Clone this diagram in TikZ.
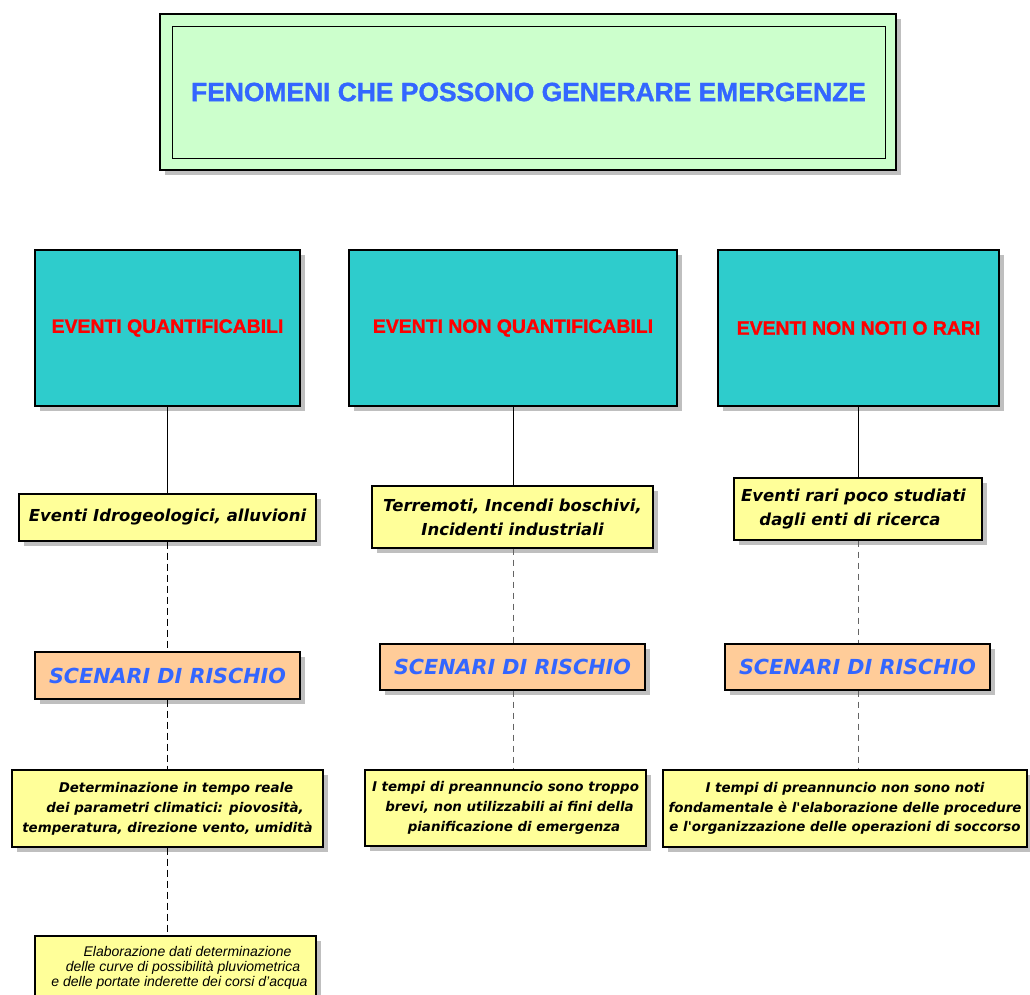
\documentclass[tikz,border=0pt]{standalone}
\usepackage{fontspec}
\setmainfont{Liberation Sans}[BoldFeatures={FakeBold=1.2}]
\newfontfamily\dvs{DejaVu Sans}[BoldFont={DejaVu Sans Bold},BoldItalicFont={DejaVu Sans Bold Oblique},ItalicFont={DejaVu Sans Oblique}]
\usetikzlibrary{shadows}
\definecolor{tgreen}{RGB}{204,255,204}
\definecolor{tblue}{RGB}{51,102,255}
\definecolor{tcyan}{RGB}{46,204,204}
\definecolor{tyellow}{RGB}{255,255,153}
\definecolor{torange}{RGB}{255,204,153}
\definecolor{tshadow}{RGB}{191,191,191}
\definecolor{tdash}{RGB}{100,100,100}
\tikzset{
  shad/.style={general shadow={fill=tshadow, shadow xshift=5pt, shadow yshift=-5pt}},
  box/.style={draw=black, line width=1.2pt, rectangle, inner sep=0pt, shad, align=center},
  cyanbox/.style={box, fill=tcyan, line width=2pt, minimum height=156pt, text=red,
    font=\bfseries\fontsize{19.4}{22}\selectfont},
  ybox/.style={box, fill=tyellow, font=\dvs\bfseries\itshape\fontsize{16.5}{24}\selectfont},
  obox/.style={box, fill=torange, text=tblue, minimum width=265pt, minimum height=47pt,
    font=\dvs\bfseries\itshape\fontsize{20.7}{24}\selectfont},
  sbox/.style={box, fill=tyellow, minimum height=77pt,
    font=\dvs\bfseries\itshape\fontsize{13.4}{19.8}\selectfont},
  solidc/.style={draw=black, line width=0.8pt},
  dashl/.style={draw=black, line width=0.8pt, dash pattern=on 7pt off 4pt},
  dashg/.style={draw=tdash, line width=1pt, dash pattern=on 6pt off 5pt}
}
\begin{document}
\begin{tikzpicture}[x=1pt,y=-1pt]
\useasboundingbox (0,0) rectangle (1030,994);
\clip (0,0) rectangle (1030,994);
% title
\node[box, fill=tgreen, minimum width=736pt, minimum height=156pt] (title) at (528,92) {};
\node[draw=black, line width=1pt, inner sep=0pt, minimum width=713pt, minimum height=132pt,
  text=tblue, font=\bfseries\fontsize{26.4}{30}\selectfont] (titlein) at (528.5,92)
  {FENOMENI CHE POSSONO GENERARE EMERGENZE};
% cyan boxes
\node[cyanbox, minimum width=265pt] (c1) at (167.5,328) {EVENTI QUANTIFICABILI};
\node[cyanbox, minimum width=328pt] (c2) at (513,328) {EVENTI NON QUANTIFICABILI};
\node[cyanbox, minimum width=281pt] (c3) at (858.5,328) {EVENTI NON NOTI O RARI};
% yellow top
\node[ybox, minimum width=297pt, minimum height=47pt] (y1) at (167.5,517.5) {Eventi Idrogeologici, alluvioni};
\node[ybox, minimum width=281pt, minimum height=62pt] (y2) at (512.5,517) {Terremoti, Incendi boschivi,\\Incidenti industriali};
\node[ybox, minimum width=248pt, minimum height=62pt] (y3) at (858,509) {Eventi rari poco studiati\hspace*{9pt}\\dagli enti di ricerca\hspace*{16pt}};
% orange
\node[obox] (o1) at (167.5,675.5) {SCENARI DI RISCHIO};
\node[obox, minimum height=46pt] (o2) at (512.5,667) {SCENARI DI RISCHIO};
\node[obox, minimum height=46pt] (o3) at (857.5,667) {SCENARI DI RISCHIO};
% bottom yellow
\node[sbox, minimum width=311pt] (b1) at (167.5,808.5) {\hspace*{17pt}Determinazione in tempo reale\\\hspace*{15pt}dei parametri climatici: piovosità,\\temperatura, direzione vento, umidità};
\node[sbox, minimum width=281pt, minimum height=76pt] (b2) at (505.5,808) {I tempi di preannuncio sono troppo\\\hspace*{8pt}brevi, non utilizzabili ai fini della\\\hspace*{17pt}pianificazione di emergenza};
\node[sbox, minimum width=364pt] (b3) at (845,808.5) {I tempi di preannuncio non sono noti\\fondamentale è l'elaborazione delle procedure\\e l'organizzazione delle operazioni di soccorso};
% last box
\node[box, fill=tyellow, minimum width=281pt, minimum height=64pt,
  font=\itshape\fontsize{14}{15}\selectfont] (e1) at (175.5,968)
  {\hspace*{24pt}Elaborazione dati determinazione\\\hspace*{15pt}delle curve di possibilità pluviometrica\\\hspace*{8pt}e delle portate inderette dei corsi d'acqua};
% connectors left
\draw[solidc] (c1.south) -- (c1.south |- y1.north);
\draw[dashl] (c1.south |- y1.south) -- (c1.south |- o1.north);
\draw[dashl] (c1.south |- o1.south) -- (c1.south |- b1.north);
\draw[dashl] (c1.south |- b1.south) -- (c1.south |- e1.north);
% connectors middle
\draw[solidc] (c2.south) -- (c2.south |- y2.north);
\draw[dashg] (c2.south |- y2.south) -- (c2.south |- o2.north);
\draw[dashg] (c2.south |- o2.south) -- (c2.south |- b2.north);
% connectors right
\draw[solidc] (c3.south) -- (c3.south |- y3.north);
\draw[dashg] (c3.south |- y3.south) -- (c3.south |- o3.north);
\draw[dashg] (c3.south |- o3.south) -- (c3.south |- b3.north);
\end{tikzpicture}
\end{document}
